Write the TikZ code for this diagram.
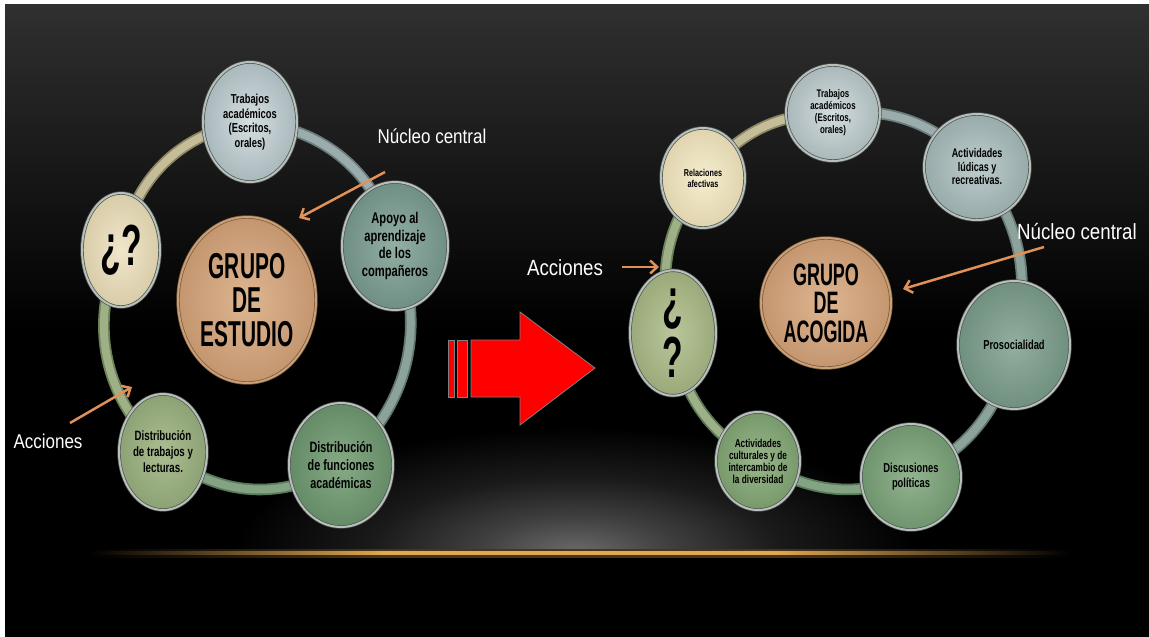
\documentclass[tikz,border=0pt]{standalone}
\usepackage{fontspec}
\setmainfont{Liberation Sans}
\newfontfamily\nA[FakeStretch=0.58]{Liberation Sans}
\newfontfamily\nB[FakeStretch=0.72]{Liberation Sans}
\newfontfamily\nC[FakeStretch=0.85]{Liberation Sans}
\usetikzlibrary{shapes.geometric,arrows.meta}
\pgfdeclarelayer{back}
\pgfdeclarelayer{ring}
\pgfsetlayers{back,ring,main}
\newcommand\setfs[2]{\fontsize{#1}{#2}\selectfont}
% colours
\definecolor{bgtop}{HTML}{303030}
\definecolor{glow}{HTML}{6A6A6A}
\definecolor{glowB}{HTML}{404040}
\definecolor{glowC}{HTML}{1A1A1A}
\definecolor{lineor}{HTML}{E0A850}
\definecolor{lineglow}{HTML}{4A3416}
\definecolor{arrowor}{HTML}{E0915A}
\definecolor{rimdark}{HTML}{4E5450}
\definecolor{rimlight}{HTML}{B8C0BC}
\definecolor{coredark}{HTML}{7A5838}
\definecolor{corelight}{HTML}{C8A078}
\definecolor{coreA}{HTML}{DDB690}
\definecolor{coreB}{HTML}{C49670}
% left nodes
\definecolor{ltrA}{HTML}{D5DEE0}\definecolor{ltrB}{HTML}{A9B8BC}
\definecolor{lqA}{HTML}{F0E6CA}\definecolor{lqB}{HTML}{D8CCA8}
\definecolor{lapA}{HTML}{93AFA4}\definecolor{lapB}{HTML}{6F8E84}
\definecolor{ldfA}{HTML}{86AA86}\definecolor{ldfB}{HTML}{648B66}
\definecolor{ldtA}{HTML}{ABBE92}\definecolor{ldtB}{HTML}{8CA174}
% right nodes
\definecolor{rtrA}{HTML}{D3DCDE}\definecolor{rtrB}{HTML}{AAB8BA}
\definecolor{ralA}{HTML}{BCCCCB}\definecolor{ralB}{HTML}{97ABAA}
\definecolor{rprA}{HTML}{92AF9F}\definecolor{rprB}{HTML}{6F8F7F}
\definecolor{rdiA}{HTML}{92B38F}\definecolor{rdiB}{HTML}{6E946D}
\definecolor{rcuA}{HTML}{99B78B}\definecolor{rcuB}{HTML}{77996A}
\definecolor{rqA}{HTML}{BAC69A}\definecolor{rqB}{HTML}{9AA97A}
\definecolor{rreA}{HTML}{F5EDCF}\definecolor{rreB}{HTML}{E0D4AE}
% ring colours
\definecolor{rgBeigeD}{HTML}{8C8664}\definecolor{rgBeigeL}{HTML}{C4BD98}
\definecolor{rgBlueD}{HTML}{6A7C7C}\definecolor{rgBlueL}{HTML}{9AACAC}
\definecolor{rgTealD}{HTML}{62786F}\definecolor{rgTealL}{HTML}{8CA39B}
\definecolor{rgGreenD}{HTML}{587A5A}\definecolor{rgGreenL}{HTML}{84A384}
\definecolor{rgOliveD}{HTML}{6E8058}\definecolor{rgOliveL}{HTML}{9DB086}
\definecolor{arrowred}{HTML}{FF0000}
\definecolor{arrowedge}{HTML}{808080}
\pgfdeclarehorizontalshading{orline}{100bp}{color(0bp)=(black); color(25bp)=(black); color(40bp)=(lineor); color(60bp)=(lineor); color(75bp)=(black); color(100bp)=(black)}
\pgfdeclarehorizontalshading{orhalo}{100bp}{color(0bp)=(black); color(25bp)=(black); color(40bp)=(lineglow); color(60bp)=(lineglow); color(75bp)=(black); color(100bp)=(black)}
\pgfdeclareradialshading{glowsh}{\pgfpoint{0bp}{0bp}}{color(0bp)=(glow); color(7bp)=(glowB); color(15bp)=(glowC); color(25bp)=(black); color(50bp)=(black)}
\begin{document}
\begin{tikzpicture}[x=1pt,y=-1pt,
  bub/.style={ellipse, inner sep=0pt, draw=rimdark, double=rimlight,
    double distance=2pt, line width=0.7pt, shade, align=center, text=black},
  core/.style={ellipse, inner sep=0pt, draw=coredark, double=corelight,
    double distance=2pt, line width=0.7pt, shade, inner color=coreA,
    outer color=coreB, align=center, text=black},
  ringseg/.style 2 args={draw=#1, double=#2, double distance=8pt, line width=1.8pt},
  orarrow/.style={draw=arrowor, line width=2.5pt, -{Straight Barb[length=7pt,width=13pt]}},
  lbl/.style={text=white, inner sep=0pt}
]
\useasboundingbox (0,0) rectangle (1149,637);
% ---------------- background ----------------
\begin{pgfonlayer}{back}
\fill[white] (0,0) rectangle (1149,637);
\shade[top color=bgtop, bottom color=black] (5,4) rectangle (1149,330);
\fill[black] (5,329) rectangle (1149,637);
\begin{scope}
  \clip (5,400) rectangle (1149,552);
  \shade[shading=glowsh] (575,552) ellipse [x radius=340, y radius=125];
\end{scope}
\shade[shading=orhalo] (90,549) rectangle (1070,557.5);
\shade[shading=orline] (90,551.8) rectangle (1070,554.6);
\end{pgfonlayer}

% ---------------- left cycle ----------------
\node[core, minimum width=138, minimum height=166, font=\nA\bfseries\setfs{36}{34}]
  (LC) at (247,300) {GRUPO\\DE\\ESTUDIO};
\node[bub, minimum width=94, minimum height=120, inner color=ltrA, outer color=ltrB,
  font=\nB\bfseries\setfs{13}{14.5}] (L1) at (250,122) {Trabajos\\acad\'emicos\\(Escritos,\\orales)};
\node[bub, minimum width=106, minimum height=128, inner color=lapA, outer color=lapB,
  font=\nB\bfseries\setfs{15.5}{17.5}] (L2) at (395,246) {Apoyo al\\aprendizaje\\de los\\compa\~neros};
\node[bub, minimum width=104, minimum height=124, inner color=ldfA, outer color=ldfB,
  font=\nB\bfseries\setfs{15}{18}] (L3) at (341,465) {Distribuci\'on\\de funciones\\acad\'emicas};
\node[bub, minimum width=88, minimum height=116, inner color=ldtA, outer color=ldtB,
  font=\nB\bfseries\setfs{13.5}{16}] (L4) at (163,452) {Distribuci\'on\\de trabajos y\\lecturas.};
\node[bub, minimum width=78, minimum height=114, inner color=lqA, outer color=lqB,
  font=\nA\bfseries\setfs{58}{58}] (L5) at (121,250) {¿?};

\begin{pgfonlayer}{ring}
\draw[ringseg={rgBlueD}{rgBlueL}] (L1.center) to[bend left=36] (L2.center);
\draw[ringseg={rgTealD}{rgTealL}] (L2.center) to[bend left=36] (L3.center);
\draw[ringseg={rgGreenD}{rgGreenL}] (L3.center) to[bend left=36] (L4.center);
\draw[ringseg={rgOliveD}{rgOliveL}] (L4.center) to[bend left=36] (L5.center);
\draw[ringseg={rgBeigeD}{rgBeigeL}] (L5.center) to[bend left=36] (L1.center);
\end{pgfonlayer}

% labels and arrows (left)
\node[lbl, font=\nC\setfs{20}{22}] (NL) at (432,136) {N\'ucleo central};
\node[lbl, font=\nC\setfs{20}{22}] (AL) at (48,441) {Acciones};
\coordinate (nl1) at (385,172);
\coordinate (nl2) at (299,218);
\coordinate (al1) at (70,423);
\coordinate (al2) at (132,387);
\draw[orarrow] (nl1) -- (nl2);
\draw[orarrow] (al1) -- (al2);

% ---------------- red arrow ----------------
\draw[fill=arrowred, draw=arrowedge, line width=0.8pt] (448,340) rectangle (454,397);
\draw[fill=arrowred, draw=arrowedge, line width=0.8pt] (457,340) rectangle (467,397);
\draw[fill=arrowred, draw=arrowedge, line width=0.8pt]
  (471,340) -- (520,340) -- (520,312) -- (595,368) -- (520,425) -- (520,397) -- (471,397) -- cycle;

% ---------------- right cycle ----------------
\node[core, minimum width=130, minimum height=130, font=\nA\bfseries\setfs{31}{28.5}]
  (RC) at (826,303) {GRUPO\\DE\\ACOGIDA};
\node[bub, minimum width=94, minimum height=96, inner color=rtrA, outer color=rtrB,
  font=\nB\bfseries\setfs{11}{12}] (R1) at (833,113) {Trabajos\\acad\'emicos\\(Escritos,\\orales)};
\node[bub, minimum width=106, minimum height=106, inner color=ralA, outer color=ralB,
  font=\nB\bfseries\setfs{12.5}{13.5}] (R2) at (977,167) {Actividades\\l\'udicas y\\recreativas.};
\node[bub, minimum width=112, minimum height=128, inner color=rprA, outer color=rprB,
  font=\nB\bfseries\setfs{13}{15}] (R3) at (1014,345) {Prosocialidad};
\node[bub, minimum width=100, minimum height=106, inner color=rdiA, outer color=rdiB,
  font=\nB\bfseries\setfs{13}{15}] (R4) at (911,477) {Discusiones\\pol\'iticas};
\node[bub, minimum width=84, minimum height=98, inner color=rcuA, outer color=rcuB,
  font=\nB\bfseries\setfs{11.5}{12}] (R5) at (758,461) {Actividades\\culturales y de\\intercambio de\\la diversidad};
\node[bub, minimum width=86, minimum height=100, inner color=rqA, outer color=rqB,
  font=\nA\bfseries\setfs{58}{58}] (R6) at (673,333) {¿\\?};
\node[bub, minimum width=84, minimum height=100, inner color=rreA, outer color=rreB,
  font=\nB\bfseries\setfs{10}{11}] (R7) at (703,178) {Relaciones\\afectivas};

\begin{pgfonlayer}{ring}
\draw[ringseg={rgBeigeD}{rgBeigeL}] (R7.center) to[bend left=26] (R1.center);
\draw[ringseg={rgBlueD}{rgBlueL}] (R1.center) to[bend left=26] (R2.center);
\draw[ringseg={rgBlueD}{rgTealL}] (R2.center) to[bend left=26] (R3.center);
\draw[ringseg={rgTealD}{rgTealL}] (R3.center) to[bend left=26] (R4.center);
\draw[ringseg={rgGreenD}{rgGreenL}] (R4.center) to[bend left=26] (R5.center);
\draw[ringseg={rgGreenD}{rgOliveL}] (R5.center) to[bend left=26] (R6.center);
\draw[ringseg={rgOliveD}{rgOliveL}] (R6.center) to[bend left=26] (R7.center);
\end{pgfonlayer}

% labels and arrows (right)
\node[lbl, font=\nC\setfs{22}{24}] (NR) at (1077,232) {N\'ucleo central};
\node[lbl, font=\nC\setfs{22}{24}] (AR) at (565,268) {Acciones};
\coordinate (nr1) at (1044,247);
\coordinate (nr2) at (903,289);
\coordinate (ar1) at (622,267);
\coordinate (ar2) at (659,267);
\draw[orarrow] (nr1) -- (nr2);
\draw[orarrow] (ar1) -- (ar2);
\end{tikzpicture}
\end{document}
